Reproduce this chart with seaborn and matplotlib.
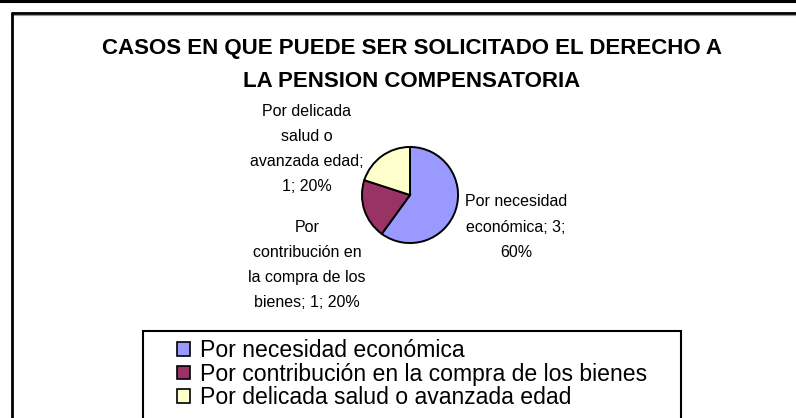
import matplotlib
matplotlib.use('Agg')
import matplotlib.pyplot as plt
import seaborn as sns
from matplotlib.lines import Line2D
from matplotlib.patches import Rectangle

sns.set_theme(style='white')
plt.rcParams['font.family'] = ['Liberation Sans', 'DejaVu Sans']
plt.rcParams['text.color'] = 'black'

# data
categories = ['Por necesidad económica',
              'Por contribución en la compra de los bienes',
              'Por delicada salud o avanzada edad']
values = [3, 1, 1]
slice_labels = ['Por necesidad\neconómica; 3;\n60%',
                'Por\ncontribución en\nla compra de los\nbienes; 1; 20%',
                'Por delicada\nsalud o\navanzada edad;\n1; 20%']
colors = ['#9999FF', '#993366', '#FFFFCC']
title = 'CASOS EN QUE PUEDE SER SOLICITADO EL DERECHO A\nLA PENSION COMPENSATORIA'

W, H = 796, 418
fig = plt.figure(figsize=(W / 100, H / 100), dpi=100)
fig.patch.set_facecolor('white')


def fx(px):
    return px / W


def fy(py):
    return 1 - py / H


# outer frame lines
fig.add_artist(Line2D([0, 1], [fy(1), fy(1)], color='black', lw=2.2))
fig.add_artist(Line2D([fx(12), 1], [fy(12.5), fy(12.5)], color='black', lw=2))
fig.add_artist(Line2D([fx(12), 1], [fy(14.5), fy(14.5)], color='#999999', lw=0.8))
fig.add_artist(Line2D([fx(12), fx(12)], [fy(12.5), 0], color='black', lw=2))

fig.text(fx(412), fy(65), title, ha='center', va='center', fontsize=16,
         fontweight='bold', linespacing=1.78, color='black')

# pie
cx, cy, r = 410, 195, 49
ax = fig.add_axes([fx(cx - r), fy(cy + r), 2 * r / W, 2 * r / H])
ax.pie(values, colors=colors, startangle=90, counterclock=False,
       wedgeprops={'edgecolor': 'black', 'linewidth': 1.4})
ax.set_xlim(-1.02, 1.02)
ax.set_ylim(-1.02, 1.02)
ax.axis('off')

label_pos = [(516, 227), (307, 265), (307, 149)]
for txt, (px, py) in zip(slice_labels, label_pos):
    fig.text(fx(px), fy(py), txt, ha='center', va='center', fontsize=11.5,
             linespacing=1.85, color='black')

# legend box
fig.add_artist(Rectangle((fx(143), fy(425)), fx(681) - fx(143), fy(331) - fy(425),
                         transform=fig.transFigure, facecolor='white',
                         edgecolor='black', lw=1.5, clip_on=False))
handles = [Rectangle((0, 0), 1, 1, facecolor=c, edgecolor='black', lw=1.2)
           for c in colors]
leg = fig.legend(handles, categories, loc='upper left',
                 bbox_to_anchor=(fx(177), fy(339)), frameon=False, fontsize=16.6,
                 borderaxespad=0, borderpad=0, handlelength=0.55, handleheight=0.55,
                 handletextpad=0.45, labelspacing=0.03)
for t in leg.get_texts():
    t.set_color('black')

plt.savefig('out.png', dpi=100)
plt.close()
